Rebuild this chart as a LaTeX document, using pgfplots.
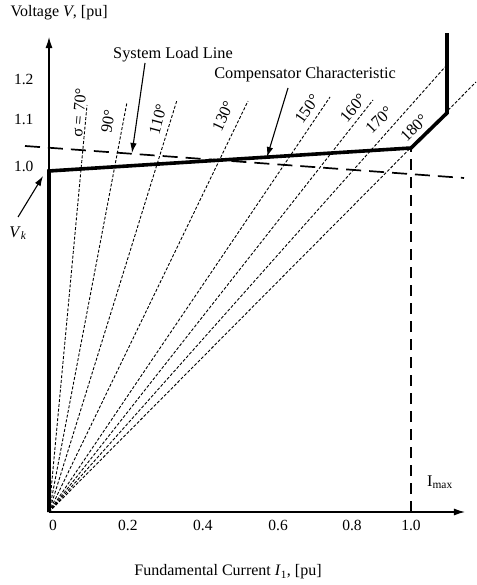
\documentclass[border=0pt]{standalone}
\usepackage{fontspec}
\setmainfont{Liberation Serif}
\usepackage{pgfplots}
\pgfplotsset{compat=1.18}
\usetikzlibrary{arrows.meta}

\begin{document}
\fontsize{16bp}{19bp}\selectfont
\begin{tikzpicture}[
  rays/.style={black, line width=0.9bp, dash pattern=on 3bp off 1.8bp},
  lbl/.style={font=\fontsize{16.3bp}{19bp}\selectfont, inner sep=0pt},
  ann/.style={line width=1.1bp, -{Latex[length=10bp,width=6.5bp]}},
]
\begin{axis}[
  x=362bp, y=340bp,
  xmin=0, xmax=1.149, ymin=0, ymax=1.397,
  axis lines=left,
  axis line style={line width=1.2bp, -{Latex[length=11bp,width=7bp]}},
  clip=false,
  major tick length=0pt,
  xtick={0.011,0.218,0.425,0.633,0.837,1.0},
  xticklabels={0,0.2,0.4,0.6,0.8,1.0},
  ytick={1.015,1.153,1.271},
  yticklabels={1.0,1.1,1.2},
  tick label style={font=\fontsize{15.5bp}{18bp}\selectfont},
  yticklabel style={xshift=-10bp},
  xticklabel style={yshift=-3bp},
  xlabel={Fundamental Current \textit{I}\textsubscript{1}, [pu]},
  xlabel style={at={(axis cs:0.4945,-0.1765)}, anchor=center},
  ylabel={Voltage \textit{V}, [pu]},
  ylabel style={at={(axis cs:-0.1215,1.4676)}, anchor=west, rotate=-90},
]
% page frame
\path (axis cs:-0.1354,-0.2147) rectangle (axis cs:1.1796,1.5059);

% load angle lines sigma
\addplot[rays] coordinates {(0,0) (0.1050,1.1970)};
\addplot[rays] coordinates {(0,0) (0.2155,1.2060)};
\addplot[rays] coordinates {(0,0) (0.3536,1.2118)};
\addplot[rays] coordinates {(0,0) (0.5497,1.2088)};
\addplot[rays] coordinates {(0,0) (0.7762,1.2206)};
\addplot[rays] coordinates {(0,0) (0.8950,1.2118)};
\addplot[rays] coordinates {(0,0) (1.0939,1.3088)};
\addplot[rays] coordinates {(0,0) (1.1796,1.2647)};

% system load line
\addplot[black, line width=1.7bp, dash pattern=on 15bp off 8bp]
  coordinates {(-0.0663,1.0765) (1.1464,0.9824)};
% Imax
\addplot[black, line width=1.5bp, dash pattern=on 11bp off 7bp]
  coordinates {(1.0,0) (1.0,1.0706)};
% compensator characteristic
\addplot[black, line width=3.6bp, line join=miter]
  coordinates {(0,0) (0,1.003) (1.0,1.0706) (1.0994,1.1735) (1.0994,1.4088)};

% angle labels
\node[lbl, rotate=85] at (axis cs:0.0829,1.1735) {σ = 70°};
\node[lbl, rotate=80] at (axis cs:0.1630,1.1500) {90°};
\node[lbl, rotate=75] at (axis cs:0.3011,1.1559) {110°};
\node[lbl, rotate=65] at (axis cs:0.4807,1.1647) {130°};
\node[lbl, rotate=55] at (axis cs:0.7127,1.1853) {150°};
\node[lbl, rotate=50] at (axis cs:0.8398,1.1882) {160°};
\node[lbl, rotate=45] at (axis cs:0.9116,1.1529) {170°};
\node[lbl, rotate=45] at (axis cs:1.0083,1.1294) {180°};

% annotations
\node[lbl] at (axis cs:0.3425,1.3440) {System Load Line};
\draw[ann] (axis cs:0.2652,1.3206) -- (axis cs:0.2293,1.0559);
\node[lbl] at (axis cs:0.7072,1.2853) {Compensator Characteristic};
\draw[ann] (axis cs:0.6602,1.2471) -- (axis cs:0.6022,1.0441);
\node[lbl] at (axis cs:-0.0856,0.8206) {\textit{V}\textsubscript{\textit{k}}};
\draw[ann] (axis cs:-0.0856,0.8676) -- (axis cs:-0.0166,0.9882);
\node[lbl] at (axis cs:1.0800,0.0880) {I\textsubscript{max}};
\end{axis}
\end{tikzpicture}
\end{document}
